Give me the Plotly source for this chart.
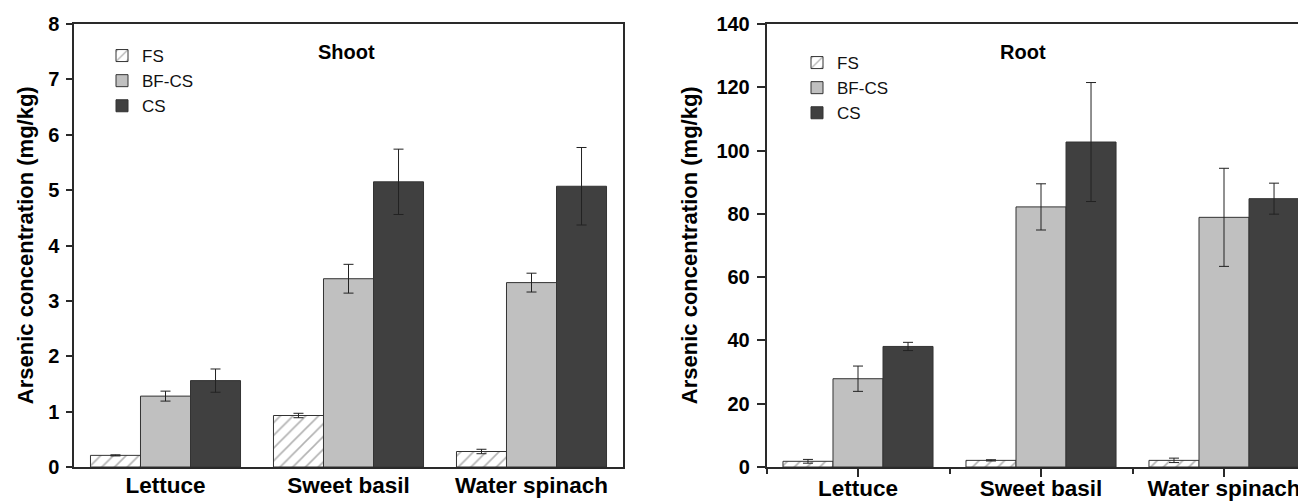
import plotly.graph_objects as go

categories = ["Lettuce", "Sweet basil", "Water spinach"]
series_names = ["FS", "BF-CS", "CS"]

shoot_fs = [0.21, 0.93, 0.28]
shoot_fs_err = [0.01, 0.04, 0.04]
shoot_bf = [1.28, 3.40, 3.33]
shoot_bf_err = [0.09, 0.26, 0.17]
shoot_cs = [1.56, 5.15, 5.07]
shoot_cs_err = [0.21, 0.59, 0.70]

root_fs = [1.8, 2.1, 2.1]
root_fs_err = [0.6, 0.2, 0.7]
root_bf = [27.9, 82.2, 78.9]
root_bf_err = [4.0, 7.3, 15.5]
root_cs = [38.1, 102.7, 84.8]
root_cs_err = [1.3, 18.8, 4.9]

shoot_ticks = [0, 1, 2, 3, 4, 5, 6, 7, 8]
root_ticks = [0, 20, 40, 60, 80, 100, 120, 140]

FONT = "Liberation Sans, Arial, sans-serif"
AX = "#2a2a2a"
xpos = list(range(len(categories)))

styles = [
    dict(color="white", pattern=dict(shape="/", fgcolor="#666666", bgcolor="white", size=9, solidity=0.18)),
    dict(color="#c0c0c0"),
    dict(color="#404040"),
]

fig = go.Figure()

def add_traces(vals, errs, xa, ya, legend):
    for name, v, e, st in zip(series_names, vals, errs, styles):
        fig.add_trace(go.Bar(
            x=xpos, y=v, name=name, xaxis=xa, yaxis=ya, legend=legend,
            marker=dict(line=dict(color="#333333", width=1), **st),
            error_y=dict(type="data", array=e, visible=True, color="#222222", thickness=1, width=5),
        ))

add_traces([shoot_fs, shoot_bf, shoot_cs], [shoot_fs_err, shoot_bf_err, shoot_cs_err], "x", "y", "legend")
add_traces([root_fs, root_bf, root_cs], [root_fs_err, root_bf_err, root_cs_err], "x2", "y2", "legend2")

# page body has an 8px margin: the figure starts at (8, 8) in the window
OFF = 8
W, H = 1306 - OFF, 501 - OFF
left, top, bottom = 74, 24, 466.7          # window pixels
ml, mr, mt, mb = left - OFF, 0, top - OFF, 501 - bottom
pw = W - ml - mr
ph = H - mt - mb

def px(x):
    return (x - left) / pw

def py(y):
    return (bottom - y) / ph

tickfont = dict(family=FONT, size=20, color="black", weight="bold")
catfont = dict(family=FONT, size=22.5, color="black", weight="bold")
legfont = dict(family=FONT, size=17, color="#111")

fig.update_layout(
    width=W, height=H,
    margin=dict(l=ml, r=mr, t=mt, b=mb, autoexpand=False),
    paper_bgcolor="white", plot_bgcolor="white",
    barmode="group", bargap=0.18, bargroupgap=0,
    xaxis=dict(domain=[0, px(623)], range=[-0.5, 2.5], anchor="y",
               tickvals=xpos, ticktext=categories, ticks="", tickfont=catfont,
               ticklabelstandoff=-3,
               showline=True, linecolor=AX, linewidth=1.5, mirror=True,
               showgrid=False, zeroline=False),
    yaxis=dict(domain=[0, 1], range=[0, 8], anchor="x", tickvals=shoot_ticks,
               ticks="outside", ticklen=6, tickcolor=AX, tickwidth=1.5,
               tickfont=tickfont, showline=True, linecolor=AX, linewidth=1.5,
               mirror=True, showgrid=False, zeroline=False, ticklabelstandoff=3),
    xaxis2=dict(domain=[px(766.5), 1], range=[-0.5, 2.448], anchor="y2",
                tickvals=xpos, ticktext=categories, ticks="outside", ticklen=8,
                tickcolor=AX, tickwidth=1.5, tickfont=catfont, ticklabelstandoff=-8,
                minor=dict(tickvals=[-0.5, 0.5, 1.5, 2.5], ticks="outside", ticklen=5,
                           tickcolor=AX, tickwidth=1.5, showgrid=False),
                showline=True, linecolor=AX, linewidth=1.5, mirror=True,
                showgrid=False, zeroline=False),
    yaxis2=dict(domain=[0, 1], range=[0, 140], anchor="x2", tickvals=root_ticks,
                ticks="outside", ticklen=8, tickcolor=AX, tickwidth=1.5,
                tickfont=tickfont, showline=True, linecolor=AX, linewidth=1.5,
                mirror=False, showgrid=False, zeroline=False, ticklabelstandoff=3),
    legend=dict(x=px(102), y=py(38), xanchor="left", yanchor="top",
                font=legfont, bgcolor="rgba(0,0,0,0)", tracegroupgap=0, itemwidth=30),
    legend2=dict(x=px(797), y=py(45), xanchor="left", yanchor="top",
                 font=legfont, bgcolor="rgba(0,0,0,0)", tracegroupgap=0, itemwidth=30),
    annotations=[
        dict(text="<b>Shoot</b>", x=px(346), y=py(52), xref="paper", yref="paper",
             xanchor="center", yanchor="middle", showarrow=False,
             font=dict(family=FONT, size=20, color="black")),
        dict(text="<b>Root</b>", x=px(1023), y=py(52), xref="paper", yref="paper",
             xanchor="center", yanchor="middle", showarrow=False,
             font=dict(family=FONT, size=20, color="black")),
        dict(text="<b>Arsenic concentration (mg/kg)</b>", x=px(25), y=py(245),
             xref="paper", yref="paper", textangle=-90, showarrow=False,
             xanchor="center", yanchor="middle",
             font=dict(family=FONT, size=22, color="black")),
        dict(text="<b>Arsenic concentration (mg/kg)</b>", x=px(689), y=py(245),
             xref="paper", yref="paper", textangle=-90, showarrow=False,
             xanchor="center", yanchor="middle",
             font=dict(family=FONT, size=22, color="black")),
    ],
)

fig.write_html("out.html")
